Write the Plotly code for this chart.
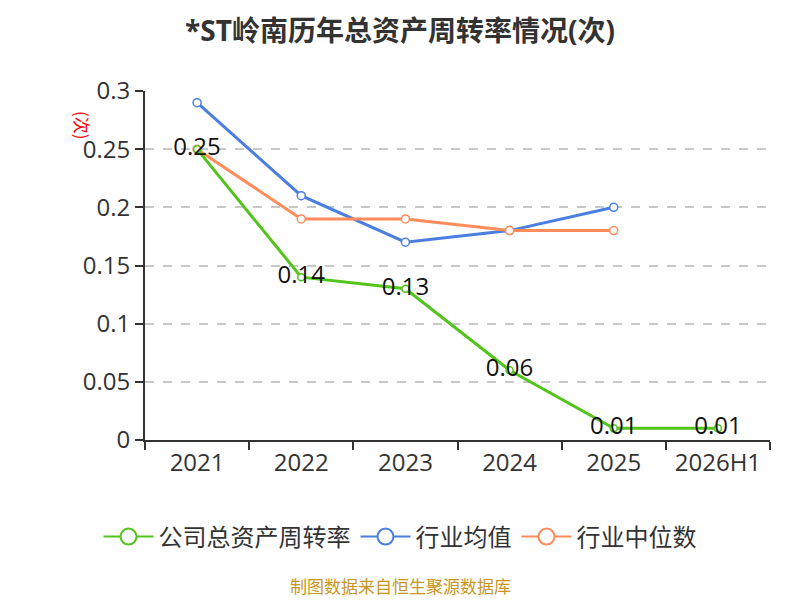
import plotly.graph_objects as go

categories = ["2021", "2022", "2023", "2024", "2025", "2026H1"]
company = [0.25, 0.14, 0.13, 0.06, 0.01, 0.01]
industry_avg = [0.29, 0.21, 0.17, 0.18, 0.20, None]
industry_median = [0.25, 0.19, 0.19, 0.18, 0.18, None]
company_labels = ["0.25", "0.14", "0.13", "0.06", "0.01", "0.01"]

series_names = ["公司总资产周转率", "行业均值", "行业中位数"]
series_colors = ["#52c41a", "#4a7ee0", "#ff8c5a"]

font = "Open Sans, Noto Sans CJK SC"
cjk = "Noto Sans CJK SC"

fig = go.Figure()
fig.add_trace(go.Scatter(
    x=categories, y=industry_avg, mode="lines+markers", showlegend=False,
    line=dict(color=series_colors[1], width=3),
    marker=dict(symbol="circle", size=8, color="white", line=dict(color=series_colors[1], width=1.5)),
))
fig.add_trace(go.Scatter(
    x=categories, y=industry_median, mode="lines+markers", showlegend=False,
    line=dict(color=series_colors[2], width=3),
    marker=dict(symbol="circle", size=8, color="white", line=dict(color=series_colors[2], width=1.5)),
))
fig.add_trace(go.Scatter(
    x=categories, y=company, mode="lines+markers+text", showlegend=False,
    line=dict(color=series_colors[0], width=3),
    marker=dict(symbol="circle", size=7, color="white", line=dict(color=series_colors[0], width=1.5)),
    text=company_labels, textposition="middle center",
    textfont=dict(size=24, color="#111111", family=font),
))
# legend entries
for name, color in zip(series_names, series_colors):
    fig.add_trace(go.Scatter(
        x=[None], y=[None], name=name, mode="lines+markers",
        line=dict(color=color, width=2),
        marker=dict(symbol="circle", size=16, color="white", line=dict(color=color, width=2)),
    ))

center_x = (400 - 8 - 137) / 625

fig.update_layout(
    width=800, height=600,
    paper_bgcolor="white", plot_bgcolor="white",
    margin=dict(l=137, r=38, t=83, b=168),
    title=dict(text="<b>*ST岭南历年总资产周转率情况(次)</b>", x=0.49, xanchor="center",
               y=0.962, yanchor="middle", font=dict(size=28, color="#333333", family=font)),
    font=dict(family=font, color="#333333"),
    showlegend=True,
    legend=dict(orientation="h", x=center_x, xanchor="center", y=-0.278, yanchor="middle",
                font=dict(size=24, color="#333333", family=cjk),
                itemwidth=50),
    xaxis=dict(
        type="category", categoryorder="array", categoryarray=categories,
        range=[-0.5, 5.5],
        showline=True, linecolor="#333333", linewidth=2,
        ticks="outside", tickson="boundaries", ticklen=8, tickcolor="#333333", tickwidth=2,
        tickfont=dict(size=24, color="#333333", family=font),
        showgrid=False,
    ),
    yaxis=dict(
        range=[0, 0.3], dtick=0.05, tick0=0,
        showline=True, linecolor="#333333", linewidth=2,
        ticks="outside", ticklen=8, tickcolor="#333333", tickwidth=2,
        tickfont=dict(size=24, color="#333333", family=font),
        showgrid=True, gridcolor="#c8c8c8", griddash="dash", gridwidth=1.5,
        zeroline=False,
    ),
    annotations=[
        dict(text="(次)", x=-0.1008, y=0.9026, xref="paper", yref="paper", showarrow=False,
             xanchor="center", yanchor="middle",
             textangle=90, font=dict(size=17, color="red", family=cjk)),
        dict(text="制图数据来自恒生聚源数据库", x=center_x, y=-0.418, xref="paper", yref="paper",
             xanchor="center", yanchor="middle",
             showarrow=False, font=dict(size=17, color="#c8961e", family=cjk)),
    ],
)

fig.write_html("out.html")
